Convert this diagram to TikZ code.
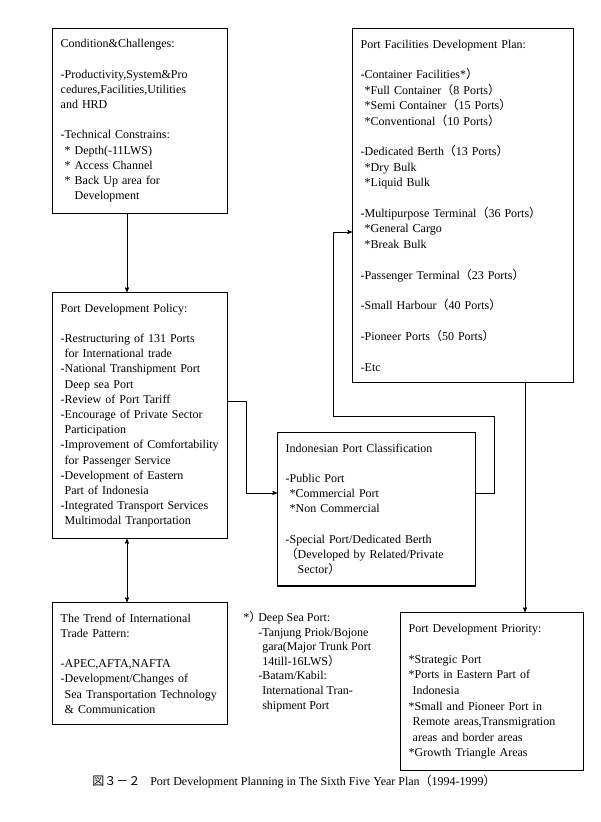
\documentclass[tikz,border=0pt]{standalone}
\usepackage{fontspec}
\setmainfont{Liberation Serif}
\newfontfamily\cjk{Noto Sans CJK JP}
\usetikzlibrary{arrows}
\usetikzlibrary{calc}
\usetikzlibrary{positioning}
\newcommand{\lp}{{\cjk （}}
\newcommand{\rp}{{\cjk ）}}
\newcommand{\skipline}{\\[\baselineskip]}
\newcommand{\ind}{\hspace*{4pt}}

\begin{document}
\begin{tikzpicture}[x=1pt,y=-1pt,>=stealth',semithick]
	\tikzstyle{box}=[draw, line width=1.4pt, align=left, anchor=north west, inner xsep=8pt, inner ysep=11pt, font=\fontsize{12}{15.2}\selectfont]
	\tikzstyle{line}=[line width=0.7pt]
	\useasboundingbox (0,0) rectangle (600,822);
	% left column
	\node[box, anchor=south west, text width=159pt] (A) at (52,214) {Condition\&Challenges:\skipline
		-Productivity,System\&Pro\\
		cedures,Facilities,Utilities\\
		and HRD\skipline
		-Technical Constrains:\\
		\ind* Depth(-11LWS)\\
		\ind* Access Channel\\
		\ind* Back Up area for\\
		\hspace*{14pt}Development};
	\node[box, text width=159pt] (B) at (52,292) {Port Development Policy:\skipline
		-Restructuring of 131 Ports\\
		\ind for International trade\\
		-National Transhipment Port\\
		\ind Deep sea Port\\
		-Review of Port Tariff\\
		-Encourage of Private Sector\\
		\ind Participation\\
		-Improvement of Comfortability\\
		\ind for Passenger Service\\
		-Development of Eastern\\
		\ind Part of Indonesia\\
		-Integrated Transport Services\\
		\ind Multimodal Tranportation};
	\node[box, text width=159pt] (F) at (52,602) {The Trend of International\\
		Trade Pattern:\skipline
		-APEC,AFTA,NAFTA\\
		-Development/Changes of\\
		\ind Sea Transportation Technology\\
		\ind\&\ Communication};
	% middle and right
	\node[box, text width=182pt] (C) at (277,432) {Indonesian Port Classification\skipline
		-Public Port\\
		\ind*Commercial Port\\
		\ind*Non Commercial\skipline
		-Special Port/Dedicated Berth\\
		\lp Developed by Related/Private\\
		\hspace*{12pt}Sector\rp};
	\node[box, text width=205pt, font=\fontsize{12}{15.4}\selectfont] (D) at (352,28) {Port Facilities Development Plan:\skipline
		-Container Facilities*\rp\\
		\ind*Full Container\lp 8 Ports\rp\\
		\ind*Semi Container\lp 15 Ports\rp\\
		\ind*Conventional\lp 10 Ports\rp\skipline
		-Dedicated Berth\lp 13 Ports\rp\\
		\ind*Dry Bulk\\
		\ind*Liquid Bulk\skipline
		-Multipurpose Terminal\lp 36 Ports\rp\\
		\ind*General Cargo\\
		\ind*Break Bulk\skipline
		-Passenger Terminal\lp 23 Ports\rp\skipline
		-Small Harbour\lp 40 Ports\rp\skipline
		-Pioneer Ports\lp 50 Ports\rp\skipline
		-Etc};
	\node[box, text width=167pt, font=\fontsize{12}{15.6}\selectfont] (E) at (400,612) {Port Development Priority:\skipline
		{*}Strategic Port\\
		{*}Ports in Eastern Part of\\
		\ind Indonesia\\
		{*}Small and Pioneer Port in\\
		\ind Remote areas,Transmigration\\
		\ind areas and border areas\\
		{*}Growth Triangle Areas\\[2pt]};
	% footnote and caption
	\node[anchor=north west, align=left, inner sep=0pt, font=\fontsize{12}{14.6}\selectfont] (N) at (243,611) {\makebox[15pt][l]{*\rp}Deep Sea Port:\\
		\hspace*{15pt}-Tanjung Priok/Bojone\\
		\hspace*{19pt}gara(Major Trunk Port\\
		\hspace*{19pt}14till-16LWS\rp\\
		\hspace*{15pt}-Batam/Kabil:\\
		\hspace*{19pt}International Tran-\\
		\hspace*{19pt}shipment Port};
	\node[anchor=base west, inner sep=0pt, font=\fontsize{12}{14}\selectfont] (T) at (92,785) {{\cjk 図３－２}\hspace{10pt}Port Development Planning in The Sixth Five Year Plan\lp 1994-1999\rp};
	% connectors
	\draw[line,->] ([xshift=75pt]A.south west) -- ([xshift=75pt]B.north west);
	\draw[line,<->] ([xshift=75pt]B.south west) -- ([xshift=75pt]F.north west);
	\draw[line,->] (B.east |- 0,401) -- (246,401) |- (C.west |- 0,493);
	\draw[line,->] (C.east |- 0,493) -| (494,416) -| (333,232) -- (D.west |- 0,232);
	\draw[line,->] (D.south -| 525,0) -- (E.north -| 525,0);
\end{tikzpicture}
\end{document}
